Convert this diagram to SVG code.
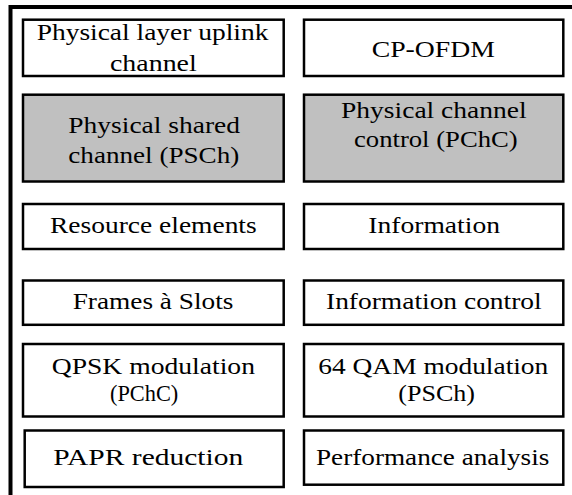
<svg xmlns="http://www.w3.org/2000/svg" width="572" height="495" viewBox="0 0 572 495">
<style>
.box{fill:#ffffff;stroke:#000000;stroke-width:2.5}
.gray{fill:#c0c0c0;stroke:#000000;stroke-width:2.5}
.frame{fill:none;stroke:#000000;stroke-width:4}
.t{font-family:'Liberation Serif','Times New Roman',serif;font-size:23.5px;fill:#000000}
</style>
<rect x="0" y="0" width="572" height="495" fill="#ffffff"/>
<g id="frame">
<polyline class="frame" points="10.5,495 10.5,7 572,7"/>
</g>
<g id="connectors"></g>
<g id="n1">
<rect class="box" x="23" y="19.7" width="260.7" height="56.3"/>
<text class="t" x="36.7" y="40" textLength="231.7" lengthAdjust="spacingAndGlyphs">Physical layer uplink</text>
<text class="t" x="110" y="71" textLength="86.7" lengthAdjust="spacingAndGlyphs">channel</text>
</g>
<g id="n2">
<rect class="box" x="304" y="19.7" width="259.3" height="56.3"/>
<text class="t" x="371.7" y="56.7" textLength="123.3" lengthAdjust="spacingAndGlyphs">CP-OFDM</text>
</g>
<g id="n3">
<rect class="gray" x="23" y="94.7" width="260.7" height="86.8"/>
<text class="t" x="68.3" y="133.3" textLength="171.7" lengthAdjust="spacingAndGlyphs">Physical shared</text>
<text class="t" x="68.3" y="162.7" textLength="171" lengthAdjust="spacingAndGlyphs">channel (PSCh)</text>
</g>
<g id="n4">
<rect class="gray" x="304" y="94.7" width="259.3" height="86.8"/>
<text class="t" x="341" y="118.3" textLength="185.7" lengthAdjust="spacingAndGlyphs">Physical channel</text>
<text class="t" x="354" y="146.7" textLength="163.7" lengthAdjust="spacingAndGlyphs">control (PChC)</text>
</g>
<g id="n5">
<rect class="box" x="23" y="204" width="260.7" height="45"/>
<text class="t" x="50" y="233.3" textLength="206.7" lengthAdjust="spacingAndGlyphs">Resource elements</text>
</g>
<g id="n6">
<rect class="box" x="304" y="204" width="259.3" height="45"/>
<text class="t" x="368.3" y="233.3" textLength="131.7" lengthAdjust="spacingAndGlyphs">Information</text>
</g>
<g id="n7">
<rect class="box" x="23" y="280.5" width="260.7" height="44.3"/>
<text class="t" x="72.7" y="309" textLength="160.7" lengthAdjust="spacingAndGlyphs">Frames à Slots</text>
</g>
<g id="n8">
<rect class="box" x="304" y="280.5" width="259.3" height="44.3"/>
<text class="t" x="326" y="309" textLength="215.7" lengthAdjust="spacingAndGlyphs">Information control</text>
</g>
<g id="n9">
<rect class="box" x="23" y="344" width="260.7" height="72.5"/>
<text class="t" x="51.7" y="374.3" textLength="203.3" lengthAdjust="spacingAndGlyphs">QPSK modulation</text>
<text class="t" x="110" y="400.5" textLength="68.3" lengthAdjust="spacingAndGlyphs">(PChC)</text>
</g>
<g id="n10">
<rect class="box" x="304" y="344" width="259.3" height="72.5"/>
<text class="t" x="318.3" y="374.3" textLength="230" lengthAdjust="spacingAndGlyphs">64 QAM modulation</text>
<text class="t" x="398.3" y="400.5" textLength="76.7" lengthAdjust="spacingAndGlyphs">(PSCh)</text>
</g>
<g id="n11">
<rect class="box" x="24.7" y="430.5" width="259" height="56.5"/>
<text class="t" x="53.3" y="465" textLength="190" lengthAdjust="spacingAndGlyphs">PAPR reduction</text>
</g>
<g id="n12">
<rect class="box" x="304" y="430.5" width="259.3" height="54.2"/>
<text class="t" x="316" y="465" textLength="233.3" lengthAdjust="spacingAndGlyphs">Performance analysis</text>
</g>
</svg>
